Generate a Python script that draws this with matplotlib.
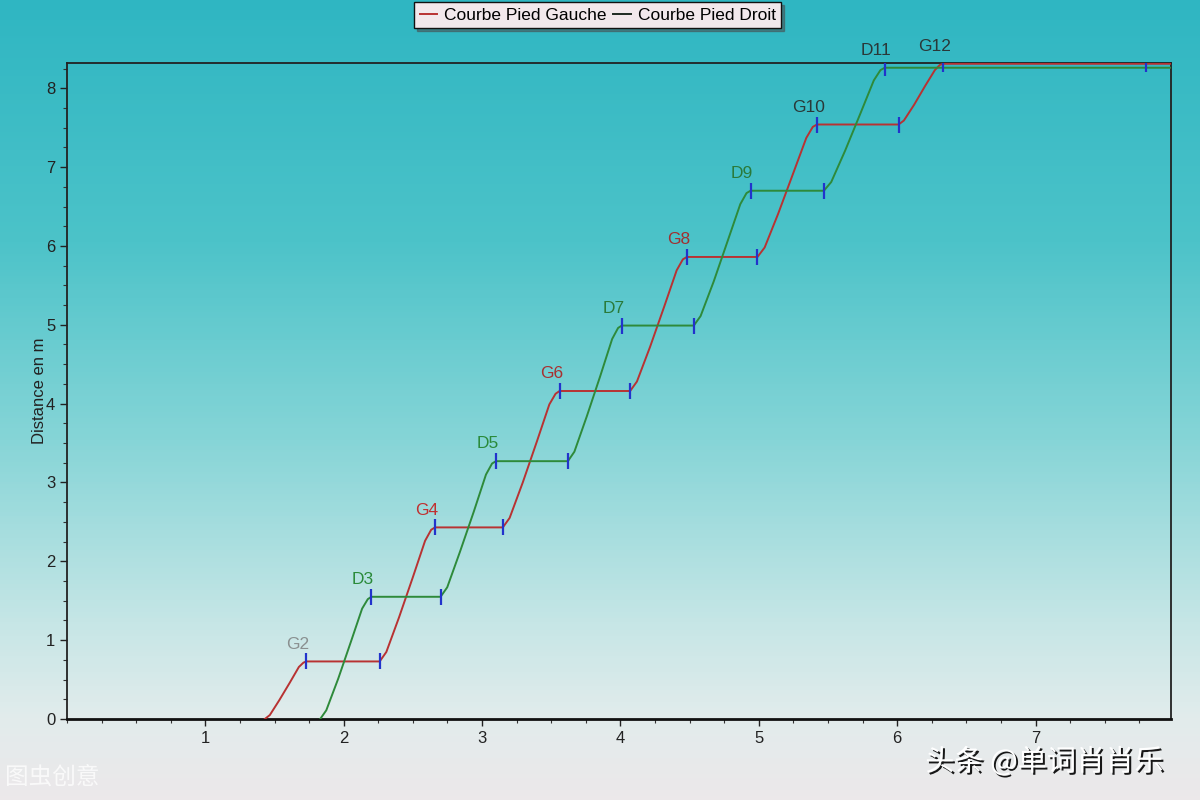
import numpy as np
import matplotlib
matplotlib.use("Agg")
import matplotlib.pyplot as plt
from matplotlib.colors import LinearSegmentedColormap
from matplotlib.ticker import MultipleLocator
import matplotlib.patheffects as pe

plt.rcParams['font.family'] = ['Liberation Sans', 'DejaVu Sans']

# Courbe pied gauche (rouge) : temps en s, distance en m
gauche_t = [1.43, 1.466, 1.535, 1.61, 1.676, 1.709, 1.73,
            2.26, 2.308, 2.40, 2.50, 2.588, 2.632, 2.66,
            3.15, 3.199, 3.294, 3.396, 3.486, 3.531, 3.56,
            4.07, 4.119, 4.214, 4.316, 4.406, 4.451, 4.48,
            4.99, 5.042, 5.14, 5.248, 5.343, 5.39, 5.42,
            6.01, 6.048, 6.122, 6.202, 6.272, 6.308, 6.33,
            7.99]
gauche_d = [0.0, 0.05, 0.24, 0.46, 0.66, 0.715, 0.73,
            0.73, 0.85, 1.29, 1.80, 2.26, 2.40, 2.43,
            2.43, 2.55, 3.00, 3.52, 3.99, 4.125, 4.16,
            4.16, 4.28, 4.72, 5.23, 5.69, 5.83, 5.86,
            5.86, 5.98, 6.41, 6.92, 7.37, 7.51, 7.54,
            7.54, 7.59, 7.79, 8.03, 8.23, 8.295, 8.31,
            8.31]

# Courbe pied droit (vert)
droit_t = [1.83, 1.874, 1.96, 2.052, 2.133, 2.174, 2.20,
           2.70, 2.748, 2.84, 2.94, 3.028, 3.072, 3.10,
           3.62, 3.667, 3.757, 3.854, 3.94, 3.983, 4.01,
           4.53, 4.579, 4.674, 4.776, 4.866, 4.911, 4.94,
           5.47, 5.523, 5.624, 5.734, 5.831, 5.879, 5.91,
           7.99]
droit_d = [0.0, 0.11, 0.51, 0.98, 1.40, 1.52, 1.55,
           1.55, 1.67, 2.12, 2.63, 3.10, 3.24, 3.27,
           3.27, 3.39, 3.84, 4.35, 4.82, 4.96, 4.99,
           4.99, 5.11, 5.55, 6.07, 6.53, 6.67, 6.70,
           6.70, 6.81, 7.21, 7.68, 8.10, 8.23, 8.26,
           8.26]

# repères bleus (début / fin d'appui)
rep_g_t = [1.73, 2.26, 2.66, 3.15, 3.56, 4.07, 4.48, 4.99, 5.42, 6.01, 6.33, 7.80]
rep_g_d = [0.73, 0.73, 2.43, 2.43, 4.16, 4.16, 5.86, 5.86, 7.54, 7.54, 8.31, 8.31]
rep_d_t = [2.20, 2.70, 3.10, 3.62, 4.01, 4.53, 4.94, 5.47, 5.91]
rep_d_d = [1.55, 1.55, 3.27, 3.27, 4.99, 4.99, 6.70, 6.70, 8.26]

# étiquettes des pas
pas_noms = ['G2', 'D3', 'G4', 'D5', 'G6', 'D7', 'G8', 'D9', 'G10', 'D11', 'G12']
pas_t = [1.73, 2.20, 2.66, 3.10, 3.56, 4.01, 4.48, 4.94, 5.42, 5.91, 6.33]
pas_d = [0.73, 1.55, 2.43, 3.27, 4.16, 4.99, 5.86, 6.70, 7.54, 8.26, 8.31]
pas_couleurs = ['#8a9090', '#2a8a3a', '#c03030', '#2a8a3a', '#a83030', '#2a7a3a',
                '#a03030', '#2a7a3a', '#2a3838', '#2a3838', '#2a3838']

fig = plt.figure(figsize=(12, 8), dpi=100)

# fond en dégradé (écran photographié)
bg = fig.add_axes([0, 0, 1, 1], zorder=-10)
cmap = LinearSegmentedColormap.from_list('ecran', [
    (0.0, '#2fb6c2'), (0.3, '#4cc3c9'), (0.55, '#86d5d7'),
    (0.78, '#c6e6e6'), (0.9, '#e2ecec'), (1.0, '#ece8ea')])
grad = np.linspace(0, 1, 400)[:, None] * np.ones((1, 10))
bg.imshow(grad, aspect='auto', cmap=cmap, extent=[0, 1, 0, 1], origin='upper')
bg.axis('off')

ax = fig.add_axes([0.0558, 0.10125, 0.9202, 0.82])
ax.patch.set_alpha(0)

ax.plot(gauche_t, gauche_d, color='#b83232', lw=1.4, label='Courbe Pied Gauche', zorder=3)
ax.plot(droit_t, droit_d, color='#2e8a3a', lw=1.4, label='Courbe Pied Droit', zorder=3)
ax.plot(rep_g_t, rep_g_d, ls='none', marker='|', ms=11, mew=1.6, color='#2233cc', zorder=4)
ax.plot(rep_d_t, rep_d_d, ls='none', marker='|', ms=11, mew=1.6, color='#2233cc', zorder=4)

for nom, t, d, c in zip(pas_noms, pas_t, pas_d, pas_couleurs):
    ax.annotate(nom, (t, d), xytext=(-6, 7), textcoords='offset points',
                ha='center', va='bottom', fontsize=12.5, color=c)

ax.set_xlim(0, 7.98)
ax.set_ylim(0, 8.32)
ax.set_xticks([1, 2, 3, 4, 5, 6, 7])
ax.set_yticks([0, 1, 2, 3, 4, 5, 6, 7, 8])
ax.xaxis.set_minor_locator(MultipleLocator(0.25))
ax.yaxis.set_minor_locator(MultipleLocator(0.25))
ax.tick_params(which='major', direction='out', length=5, width=1, labelsize=12, colors='#222222')
ax.tick_params(which='minor', direction='out', length=3, width=0.8, colors='#333333')
for s in ['top', 'right', 'left']:
    ax.spines[s].set_color('#222222')
    ax.spines[s].set_linewidth(1.3)
ax.spines['bottom'].set_color('#111111')
ax.spines['bottom'].set_linewidth(2)
ax.set_ylabel('Distance en m', fontsize=12, color='#222222')
ax.yaxis.set_label_coords(-0.018, 0.5)

leg = fig.legend(loc='center', bbox_to_anchor=(0.498, 0.981), ncol=2, fontsize=12.5,
                 handlelength=1.0, handletextpad=0.4, columnspacing=0.4,
                 frameon=True, fancybox=False, shadow=True, borderpad=0.3)
leg.get_frame().set_facecolor('#f2e8ec')
leg.get_frame().set_edgecolor('#111111')
leg.get_frame().set_alpha(1)
leg.legend_handles[1].set_color('#1e2a22')

# filigranes
fig.text(0.771, 0.047, '头条 @单词肖肖乐', fontsize=21, color='white',
         family=['Noto Sans CJK SC', 'DejaVu Sans'], ha='left', va='center',
         path_effects=[pe.withSimplePatchShadow(offset=(1.5, -1.5), shadow_rgbFace='black', alpha=0.9)])
fig.text(0.004, 0.028, '图虫创意', fontsize=17, color='white', alpha=0.75,
         family=['Noto Sans CJK SC', 'DejaVu Sans'], ha='left', va='center')

fig.savefig('out.png', dpi=100)
